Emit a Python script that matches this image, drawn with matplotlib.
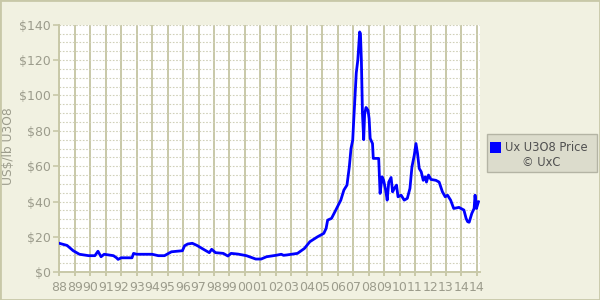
import matplotlib
matplotlib.use('Agg')
import matplotlib.pyplot as plt
from matplotlib.patches import Rectangle
from matplotlib.ticker import MultipleLocator, FixedLocator

# Ux U3O8 spot price (fractional years, US$/lb)
anios = [1988.0, 1988.5, 1988.9, 1989.3, 1989.9, 1990.3, 1990.5, 1990.7, 1990.9,
         1991.5, 1991.7, 1991.8, 1992.0, 1992.7, 1992.8, 1993.0, 1994.0, 1994.4,
         1994.8, 1995.25, 1995.96, 1996.1, 1996.3, 1996.6, 1996.9, 1997.4, 1997.7,
         1997.85, 1998.1, 1998.6, 1998.9, 1999.1, 1999.55, 2000.1, 2000.7, 2001.05,
         2001.4, 2002.0, 2002.35, 2002.5, 2002.7, 2003.4, 2003.85, 2004.2, 2004.7,
         2005.1, 2005.25, 2005.35, 2005.6, 2005.9, 2006.2, 2006.4, 2006.6, 2006.75,
         2006.86, 2006.97, 2007.03, 2007.2, 2007.3, 2007.42, 2007.47, 2007.53,
         2007.6, 2007.68, 2007.74, 2007.83, 2007.96, 2008.03, 2008.1, 2008.25,
         2008.3, 2008.65, 2008.74, 2008.87, 2008.97, 2009.1, 2009.2, 2009.3,
         2009.45, 2009.55, 2009.66, 2009.8, 2009.9, 2010.1, 2010.3, 2010.5,
         2010.67, 2010.8, 2010.95, 2011.06, 2011.16, 2011.27, 2011.4, 2011.53,
         2011.66, 2011.74, 2011.87, 2012.03, 2012.35, 2012.56, 2012.77, 2012.95,
         2013.1, 2013.3, 2013.5, 2013.84, 2014.16, 2014.3, 2014.4, 2014.5,
         2014.67, 2014.82, 2014.88, 2014.97, 2015.1]
precios = [16.4, 15.2, 12.2, 10.2, 9.4, 9.4, 11.9, 8.8, 10.2,
           9.4, 8.2, 7.3, 8.2, 8.2, 10.7, 10.2, 10.2, 9.4,
           9.4, 11.6, 12.2, 15.0, 16.0, 16.4, 15.2, 12.6, 11.1,
           13.0, 11.1, 10.7, 9.2, 10.7, 10.3, 9.4, 7.5, 7.5,
           8.8, 9.6, 10.2, 9.6, 9.8, 10.7, 13.5, 17.3, 20.1,
           22.0, 24.8, 29.5, 30.5, 35.6, 40.8, 46.5, 49.3, 59.6,
           70.0, 74.7, 85.0, 112.7, 120.0, 135.9, 135.0, 120.0,
           89.8, 75.0, 89.4, 93.2, 91.6, 87.0, 75.7, 72.8,
           64.4, 64.4, 44.6, 54.0, 52.0, 46.5, 40.8, 51.0,
           53.6, 45.5, 47.4, 49.3, 42.7, 43.6, 40.8, 41.8,
           47.4, 59.6, 66.2, 72.8, 67.2, 58.7, 56.8, 52.0,
           54.0, 51.0, 55.0, 52.5, 52.0, 51.0, 45.5, 42.7,
           43.6, 40.8, 36.1, 36.7, 35.2, 30.5, 28.6, 28.3,
           33.3, 36.1, 43.6, 36.1, 39.9]

# tick positions and labels on the x axis (last label repeats "14" as in the original)
ticks_x = list(range(1988, 2016))
etiquetas_x = ['%02d' % (a % 100) for a in range(1988, 2015)] + ['14']
ticks_y = [0, 20, 40, 60, 80, 100, 120, 140]

BEIGE = '#f1f1e1'
TAN = '#c8c8a8'
GRIS = '#9c9c8c'

fig = plt.figure(figsize=(6, 3), dpi=100, facecolor=BEIGE)
fig.patches.append(Rectangle((0, 0), 1, 1, transform=fig.transFigure,
                             fill=False, edgecolor=TAN, linewidth=2))

ax = fig.add_axes([59.3 / 600, 27.7 / 300, (480 - 59.3) / 600, (272.3 - 24.7) / 300])
ax.set_facecolor('white')
ax.plot(anios, precios, color='#0000ff', linewidth=2.0, zorder=3)

ax.set_xlim(1988, 2015.2)
ax.set_ylim(0, 140)

ax.xaxis.set_major_locator(FixedLocator(ticks_x))
ax.set_xticklabels(etiquetas_x)
ax.set_yticks(ticks_y)
ax.set_yticklabels(['$%d' % v for v in ticks_y])
ax.yaxis.set_minor_locator(MultipleLocator(5))

ax.grid(axis='x', which='major', color=TAN, linewidth=1.4, linestyle='-')
ax.grid(axis='y', which='both', color='#d0d0b8', linewidth=0.8, linestyle=(0, (1.5, 1.5)))
ax.set_axisbelow(True)

for s in ['top', 'right']:
    ax.spines[s].set_visible(False)
for s in ['left', 'bottom']:
    ax.spines[s].set_color(TAN)
    ax.spines[s].set_linewidth(1.4)

ax.tick_params(axis='x', which='major', length=3, width=1.4, color=TAN,
               labelsize=9, labelcolor=GRIS, pad=3)
ax.tick_params(axis='y', which='major', length=4, width=1.2, color=TAN,
               labelsize=9, labelcolor=GRIS, pad=2)
ax.tick_params(axis='y', which='minor', length=0)

fig.text(9 / 600, (300 - 146) / 300, 'US$/lb U3O8', rotation=90, ha='center', va='center',
         fontsize=8.8, color=GRIS)

# legend box drawn by hand
fig.patches.append(Rectangle((486.5 / 600, (300 - 172) / 300), 110 / 600, 38 / 300,
                             transform=fig.transFigure, facecolor='#dcdccc',
                             edgecolor='#b4b4a4', linewidth=1))
fig.patches.append(Rectangle((490 / 600, (300 - 153) / 300), 11 / 600, 11 / 300,
                             transform=fig.transFigure, facecolor='#0000ff',
                             edgecolor='none'))
fig.text(505 / 600, (300 - 147.5) / 300, 'Ux U3O8 Price', ha='left', va='center',
         fontsize=8.3, color='#505050')
fig.text(541 / 600, (300 - 163) / 300, '© UxC', ha='center', va='center',
         fontsize=8.3, color='#505050')

fig.savefig('out.png', dpi=100, facecolor=BEIGE)
